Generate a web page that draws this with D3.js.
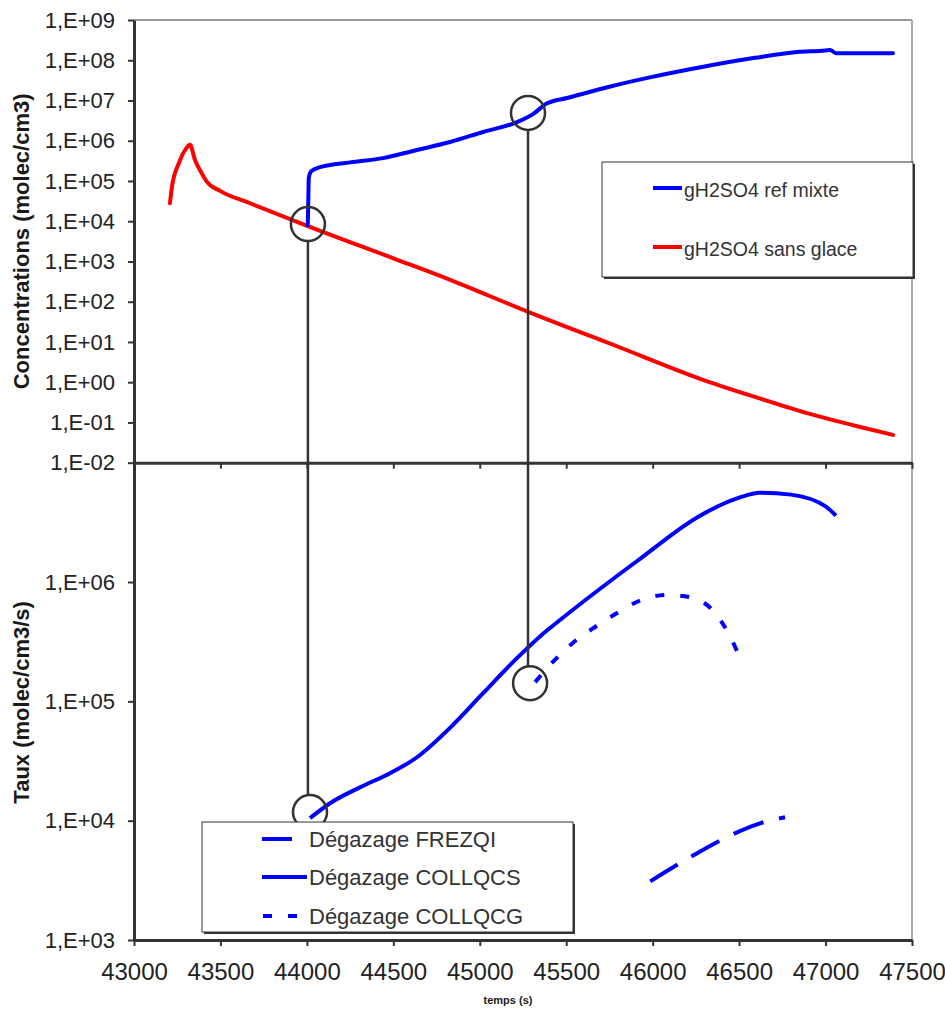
<!DOCTYPE html>
<html><head><meta charset="utf-8">
<script src="https://cdn.jsdelivr.net/npm/d3@7"></script>
<style>
body{margin:0;background:#fff}
svg{display:block}
text{font-family:"Liberation Sans",Arial,sans-serif}
</style>
</head><body>
<svg id="c" width="945" height="1014"></svg>
<script>
// ---------- data ----------
const xTicks = [43000,43500,44000,44500,45000,45500,46000,46500,47000,47500];
const xTickLabels = ["43000","43500","44000","44500","45000","45500","46000","46500","47000","47500"];
const topTicks = [1e-2,1e-1,1e0,1e1,1e2,1e3,1e4,1e5,1e6,1e7,1e8,1e9];
const topTickLabels = ["1,E-02","1,E-01","1,E+00","1,E+01","1,E+02","1,E+03","1,E+04","1,E+05","1,E+06","1,E+07","1,E+08","1,E+09"];
const botTicks = [1e3,1e4,1e5,1e6];
const botTickLabels = ["1,E+03","1,E+04","1,E+05","1,E+06"];

// gH2SO4 ref mixte (top, blue)
const refMixteT = [44005,44008,44011,44025,44076,44250,44440,44637,44828,45019,45215,45308,45389,45505,45750,45990,46300,46592,46835,47000,47026,47060,47390];
const refMixteV = [8e3,3e4,1.2e5,1.75e5,2.2e5,2.9e5,3.7e5,5.9e5,9.3e5,1.65e6,2.9e6,4.6e6,8.5e6,1.15e7,2.2e7,3.8e7,7e7,1.15e8,1.6e8,1.75e8,1.8e8,1.5e8,1.5e8];
// gH2SO4 sans glace (top, red)
const sansGlaceT = [43208,43220,43260,43300,43324,43353,43390,43422,43500,43671,44005,44500,44828,45280,45800,46291,46592,46893,47194,47390];
const sansGlaceV = [2.8e4,7.4e4,2.8e5,6.3e5,7.9e5,3.3e5,1.6e5,9.5e4,5.6e4,2.8e4,7.6e3,1.2e3,3.5e2,56,7.6,1.15,0.43,0.17,0.078,0.049];
// Dégazage COLLQCS (bottom, solid)
const collqcsT = [44018,44134,44307,44481,44637,44828,45019,45215,45348,45464,45910,46274,46500,46621,46800,47000,47060];
const collqcsV = [1.05e4,1.4e4,1.9e4,2.5e4,3.4e4,6e4,1.17e5,2.3e5,3.5e5,4.8e5,1.5e6,3.6e6,5.1e6,5.6e6,5.4e6,4.3e6,3.6e6];
// Dégazage COLLQCG (bottom, dotted)
const collqcgT = [45320,45436,45540,45667,45794,45938,46083,46228,46361,46448,46517];
const collqcgV = [1.45e5,2.24e5,3.1e5,4.2e5,5.5e5,7.1e5,7.8e5,7.4e5,5.5e5,3.5e5,2.1e5];
// Dégazage FREZQI (bottom, long dash)
const frezqiT = [45986,46233,46372,46621,46766];
const frezqiV = [3.1e3,5.1e3,6.6e3,9.5e3,1.07e4];

// annotation circles: [time, value, panel]
const circleT = [44006,45279,44018,45291];
const circleV = [8.5e3,4.9e6,1.18e4,1.42e5];
const circlePanel = ["top","top","bottom","bottom"];
const dropPairs = [[0,2],[1,3]];

const topLegend = ["gH2SO4 ref mixte","gH2SO4 sans glace"];
const botLegend = ["Dégazage FREZQI","Dégazage COLLQCS","Dégazage COLLQCG"];

// ---------- scales ----------
const svg = d3.select("#c");
const x = d3.scaleLinear().domain([43000,47500]).range([134,912]);
const yTop = d3.scaleLog().domain([1e-2,1e9]).range([462.7,20]);
const yBot = d3.scaleLog().domain([1e3,1e7]).range([940,462.7]);

const BLUE="#0000ff", RED="#ff0000", AX="#333";

// frame: gray top/right borders
svg.append("line").attr("x1",x(43000)).attr("x2",x(47500)).attr("y1",yTop(1e9)).attr("y2",yTop(1e9)).attr("stroke","#999").attr("stroke-width",2);
svg.append("line").attr("x1",x(47500)).attr("x2",x(47500)).attr("y1",yTop(1e9)).attr("y2",yBot(1e3)).attr("stroke","#aaa").attr("stroke-width",2);

// axes
function styleAxis(g){
  g.selectAll("path.domain").attr("stroke",AX).attr("stroke-width",3);
  g.selectAll(".tick line").attr("stroke",AX).attr("stroke-width",2);
  g.selectAll(".tick text").attr("fill","#222").style("font-size","22px").style("font-family","'Liberation Sans',Arial,sans-serif");
}
const gTop = svg.append("g").attr("transform",`translate(${x(43000)},0)`)
  .call(d3.axisLeft(yTop).tickValues(topTicks).tickFormat((d,i)=>topTickLabels[i]).tickSize(6).tickSizeOuter(0).tickPadding(13));
styleAxis(gTop);
const gBot = svg.append("g").attr("transform",`translate(${x(43000)},0)`)
  .call(d3.axisLeft(yBot).tickValues(botTicks).tickFormat((d,i)=>botTickLabels[i]).tickSize(6).tickSizeOuter(0).tickPadding(13));
styleAxis(gBot);

const gXmid = svg.append("g").attr("transform",`translate(0,${yTop(1e-2)})`)
  .call(d3.axisBottom(x).tickValues(xTicks).tickFormat("").tickSize(6).tickSizeOuter(0));
styleAxis(gXmid);
const gX = svg.append("g").attr("transform",`translate(0,${yBot(1e3)})`)
  .call(d3.axisBottom(x).tickValues(xTicks).tickFormat((d,i)=>xTickLabels[i]).tickSize(6).tickSizeOuter(0));
styleAxis(gX);
gX.selectAll(".tick text").attr("y",40).attr("dy",null).style("font-size","24px");

// axis titles
svg.append("text").attr("transform",`translate(29,${(yTop(1e9)+yTop(1e-2))/2}) rotate(-90)`)
  .attr("text-anchor","middle").attr("font-weight","bold").attr("font-size",22).attr("fill","#1a1a1a")
  .text("Concentrations (molec/cm3)");
svg.append("text").attr("transform",`translate(29,${(yBot(1e7)+yBot(1e3))/2+1}) rotate(-90)`)
  .attr("text-anchor","middle").attr("font-weight","bold").attr("font-size",22).attr("fill","#1a1a1a")
  .text("Taux (molec/cm3/s)");
svg.append("text").attr("x",508).attr("y",1004).attr("text-anchor","middle")
  .attr("font-weight","bold").attr("font-size",11).attr("fill","#1a1a1a").text("temps (s)");

// series
const lineTop = d3.line().x(d=>x(d[0])).y(d=>yTop(d[1])).curve(d3.curveMonotoneX);
const lineBot = d3.line().x(d=>x(d[0])).y(d=>yBot(d[1])).curve(d3.curveMonotoneX);
const zip=(a,b)=>a.map((t,i)=>[t,b[i]]);

svg.append("path").datum(zip(sansGlaceT,sansGlaceV)).attr("d",lineTop)
  .attr("fill","none").attr("stroke",RED).attr("stroke-width",4).attr("stroke-linejoin","round").attr("stroke-linecap","round");
svg.append("path").datum(zip(refMixteT,refMixteV)).attr("d",lineTop)
  .attr("fill","none").attr("stroke",BLUE).attr("stroke-width",4).attr("stroke-linejoin","round").attr("stroke-linecap","round");

svg.append("path").datum(zip(collqcsT,collqcsV)).attr("d",lineBot)
  .attr("fill","none").attr("stroke",BLUE).attr("stroke-width",4).attr("stroke-linejoin","round");
svg.append("path").datum(zip(collqcgT,collqcgV)).attr("d",lineBot)
  .attr("fill","none").attr("stroke",BLUE).attr("stroke-width",4).attr("stroke-dasharray","9,16");
svg.append("path").datum(zip(frezqiT,frezqiV)).attr("d",lineBot)
  .attr("fill","none").attr("stroke",BLUE).attr("stroke-width",4).attr("stroke-dasharray","32,16");

// annotations
const cpos = circleT.map((t,i)=>({x:x(t), y: circlePanel[i]==="top"? yTop(circleV[i]) : yBot(circleV[i])}));
const R = 17;
dropPairs.forEach(([a,b])=>{
  svg.append("line").attr("x1",cpos[a].x).attr("x2",cpos[a].x).attr("y1",cpos[a].y+R).attr("y2",cpos[b].y-R)
    .attr("stroke",AX).attr("stroke-width",2.5);
});
cpos.forEach(p=>{
  svg.append("circle").attr("cx",p.x).attr("cy",p.y).attr("r",R).attr("fill","none").attr("stroke",AX).attr("stroke-width",2.5);
});

// legends
function legendBox(x0,y0,w,h){
  svg.append("rect").attr("x",x0+2).attr("y",y0+2).attr("width",w).attr("height",h).attr("fill","#333");
  svg.append("rect").attr("x",x0).attr("y",y0).attr("width",w).attr("height",h).attr("fill","#fff").attr("stroke","#333").attr("stroke-width",1);
}
legendBox(602,162,311,115);
const topCol=[BLUE,RED], topY=[188,247];
topLegend.forEach((s,i)=>{
  svg.append("line").attr("x1",653).attr("x2",682).attr("y1",topY[i]).attr("y2",topY[i]).attr("stroke",topCol[i]).attr("stroke-width",4);
  svg.append("text").attr("x",684).attr("y",topY[i]+9).attr("font-size",19.5).attr("fill","#333").text(s);
});
legendBox(202,822,371,110);
const botY=[839,877,916], botDash=["30,30",null,"9,16"], botX1=[262,262,263];
botLegend.forEach((s,i)=>{
  svg.append("line").attr("x1",botX1[i]).attr("x2",307).attr("y1",botY[i]).attr("y2",botY[i])
    .attr("stroke",BLUE).attr("stroke-width",4).attr("stroke-dasharray",botDash[i]);
  svg.append("text").attr("x",309).attr("y",botY[i]+8).attr("font-size",22).attr("fill","#333").text(s);
});
</script>
</body></html>
